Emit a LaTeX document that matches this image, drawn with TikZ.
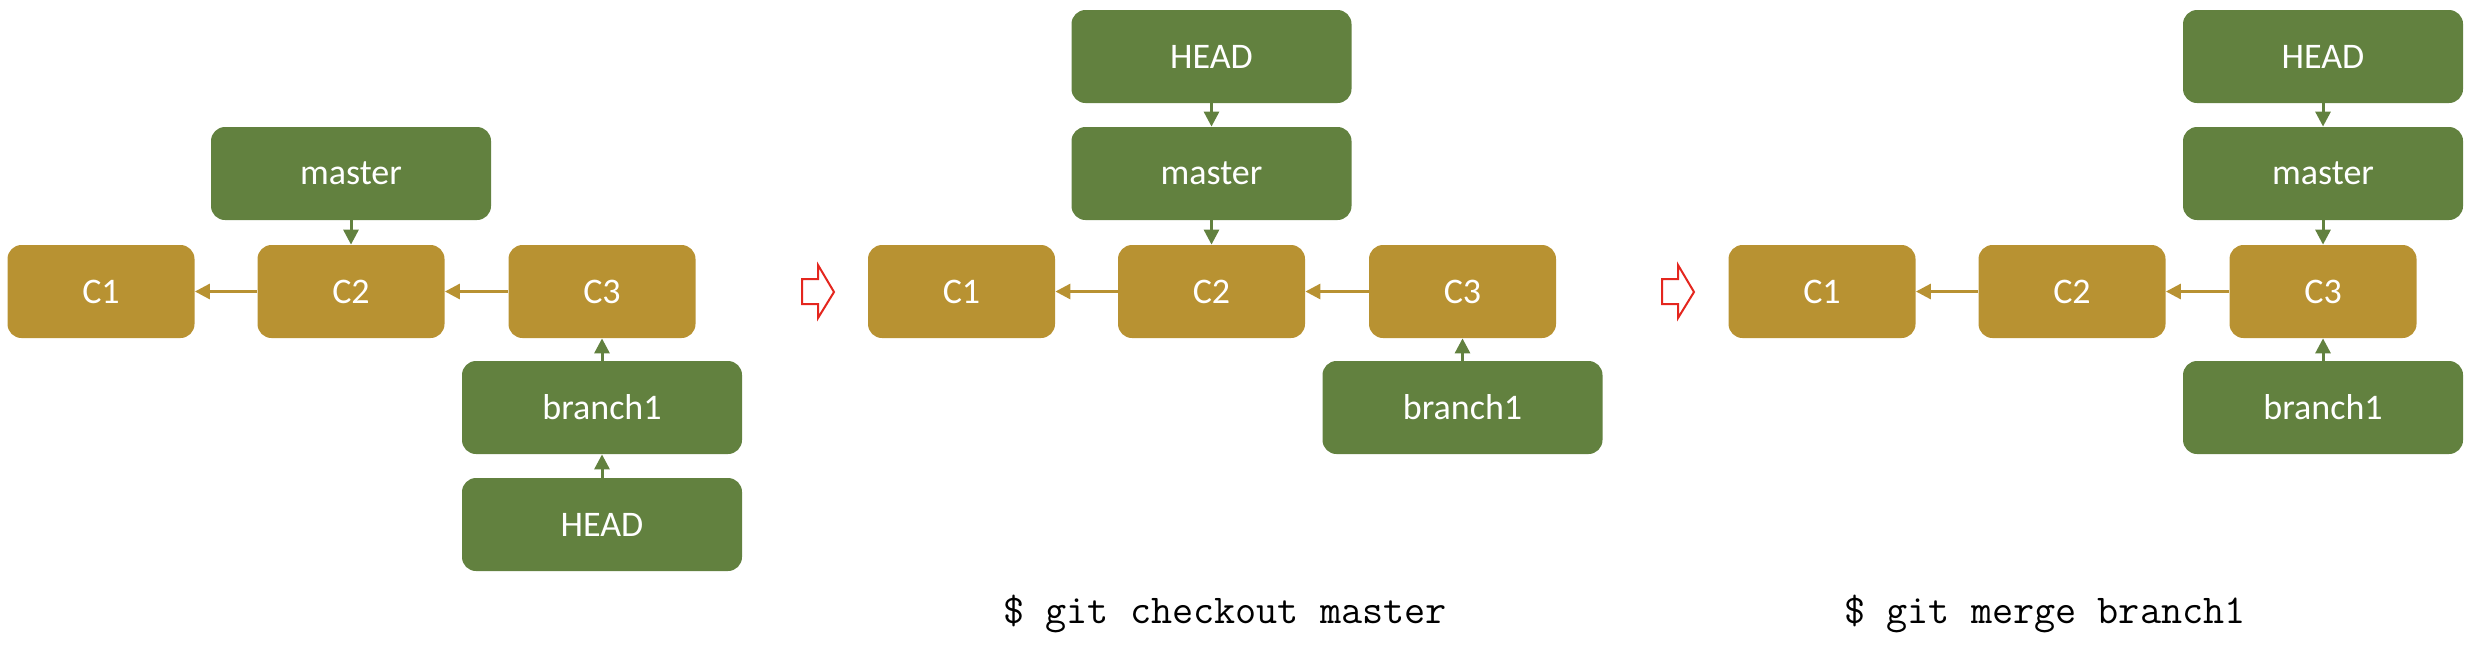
\documentclass[tikz,border=0pt]{standalone}
\usepackage{fontspec}
\setmainfont{Carlito}
\usetikzlibrary{arrows.meta}
\definecolor{gitgreen}{RGB}{98,129,63}
\definecolor{gitgold}{RGB}{184,146,50}
\definecolor{flowred}{RGB}{228,38,30}
\begin{document}
\begin{tikzpicture}[x=0.5pt,y=-0.5pt,
  commit/.style={fill=gitgold, rounded corners=7pt, minimum width=93.5pt,
    minimum height=46.5pt, inner sep=0pt, text=white,
    font=\fontsize{18}{20}\selectfont},
  ref/.style={commit, fill=gitgreen, minimum width=140pt},
  goldarrow/.style={draw=gitgold, line width=1.5pt,
    -{Triangle[length=7.5pt,width=7.5pt]}},
  greenarrow/.style={goldarrow, draw=gitgreen},
  cmd/.style={anchor=base west, inner sep=0pt, font=\ttfamily\fontsize{20.5}{22}\selectfont},
  redblock/.style={draw=flowred, fill=white, line width=1pt, line join=miter}
]
\useasboundingbox (0,0) rectangle (2472,644);

% panel 1
\node[commit] (a1) at (101,291.5) {C1};
\node[commit] (a2) at (351,291.5) {C2};
\node[commit] (a3) at (602,291.5) {C3};
\node[ref] (am) at (351,173.5) {master};
\node[ref] (ab) at (602,407.5) {branch1};
\node[ref] (ah) at (602,524.5) {HEAD};
\draw[goldarrow] (a2) -- (a1);
\draw[goldarrow] (a3) -- (a2);
\draw[greenarrow] (am) -- (a2);
\draw[greenarrow] (ab) -- (a3);
\draw[greenarrow] (ah) -- (ab);

% arrow 1
\draw[redblock] (802,279) -- (818,279) -- (818,265) -- (834,292) -- (818,318) -- (818,304) -- (802,304) -- cycle;

% panel 2
\node[commit] (b1) at (961.5,291.5) {C1};
\node[commit] (b2) at (1211.5,291.5) {C2};
\node[commit] (b3) at (1462.5,291.5) {C3};
\node[ref] (bh) at (1211.5,56.5) {HEAD};
\node[ref] (bm) at (1211.5,173.5) {master};
\node[ref] (bb) at (1462.5,407.5) {branch1};
\draw[goldarrow] (b2) -- (b1);
\draw[goldarrow] (b3) -- (b2);
\draw[greenarrow] (bh) -- (bm);
\draw[greenarrow] (bm) -- (b2);
\draw[greenarrow] (bb) -- (b3);
\node[cmd] (t2) at (1003,623) {\$ git checkout master};

% arrow 2
\draw[redblock] (1662,279) -- (1678,279) -- (1678,265) -- (1694,292) -- (1678,318) -- (1678,304) -- (1662,304) -- cycle;

% panel 3
\node[commit] (c1) at (1822,291.5) {C1};
\node[commit] (c2) at (2072,291.5) {C2};
\node[commit] (c3) at (2323,291.5) {C3};
\node[ref] (ch) at (2323,56.5) {HEAD};
\node[ref] (cm) at (2323,173.5) {master};
\node[ref] (cb) at (2323,407.5) {branch1};
\draw[goldarrow] (c2) -- (c1);
\draw[goldarrow] (c3) -- (c2);
\draw[greenarrow] (ch) -- (cm);
\draw[greenarrow] (cm) -- (c3);
\draw[greenarrow] (cb) -- (c3);
\node[cmd] (t3) at (1844,623) {\$ git merge branch1};
\end{tikzpicture}
\end{document}
